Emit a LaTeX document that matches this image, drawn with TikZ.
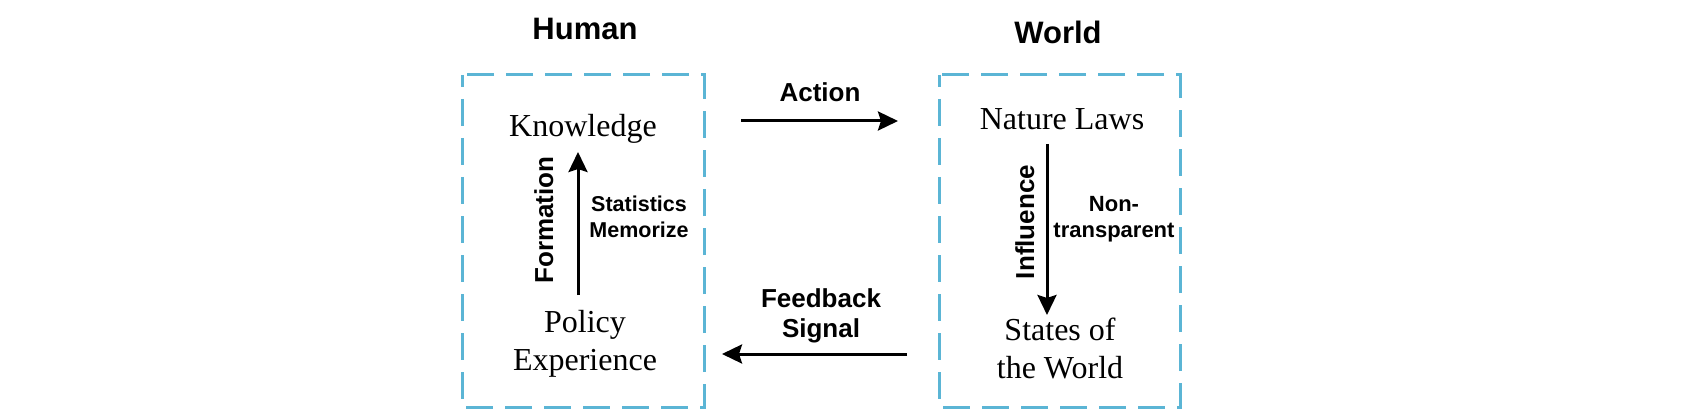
\documentclass[tikz,border=0pt]{standalone}
\usepackage{fontspec}
\setmainfont{Liberation Serif}
\setsansfont{Liberation Sans}
\usetikzlibrary{arrows.meta}
\definecolor{boxblue}{HTML}{5BB5D5}

\begin{document}
\begin{tikzpicture}[x=1pt,y=-1pt,
  flow/.style={line width=3pt,-{Stealth[length=20pt,width=19pt,inset=3pt]}},
  frame/.style={draw=boxblue,line width=3pt,dash pattern=on 27pt off 12pt,dash phase=15pt},
  title/.style={font=\sffamily\bfseries\fontsize{31}{36}\selectfont,anchor=base,inner sep=0pt},
  term/.style={font=\fontsize{32}{38}\selectfont,align=center,anchor=base,inner sep=0pt},
  tag/.style={font=\sffamily\bfseries\fontsize{26}{30}\selectfont,align=center,anchor=base,inner sep=0pt},
  note/.style={font=\sffamily\bfseries\fontsize{21.5}{26}\selectfont,align=center,anchor=base,inner sep=0pt}]
\useasboundingbox (0,0) rectangle (1690,417);

% the two boxes
\draw[frame] (462,75) rectangle (704,407);
\draw[frame] (939,75) rectangle (1180,407);

\node[title] (human) at (585,40) {Human};
\node[title] (world) at (1058,44) {World};

% human side
\node[term] (knowledge) at (583,137) {Knowledge};
\node[term] (policy) at (585,370) {Policy\\Experience};
\coordinate (formS) at (578,295);
\coordinate (formE) at (578,152);
\draw[flow] (formS) -- (formE);
\node[tag,rotate=90] (formation) at (553,220) {Formation};
\node[note] (stat) at (639,237) {Statistics\\Memorize};

% world side
\node[term] (laws) at (1062,130) {Nature Laws};
\node[term] (states) at (1060,378) {States of\\the World};
\coordinate (inflS) at (1047,144);
\coordinate (inflE) at (1047,315);
\draw[flow] (inflS) -- (inflE);
\node[tag,rotate=90] (influence) at (1034,222) {Influence};
\node[note,font=\sffamily\bfseries\fontsize{22}{26}\selectfont] (opaque) at (1114,237) {Non-\\transparent};

% between the boxes
\coordinate (actS) at (741,121);
\coordinate (actE) at (898,121);
\draw[flow] (actS) -- (actE);
\node[tag] (action) at (820,102) {Action};
\coordinate (fbS) at (907,354);
\coordinate (fbE) at (722,354);
\draw[flow] (fbS) -- (fbE);
\node[tag] (feedback) at (821,337) {Feedback\\Signal};

\end{tikzpicture}
\end{document}
